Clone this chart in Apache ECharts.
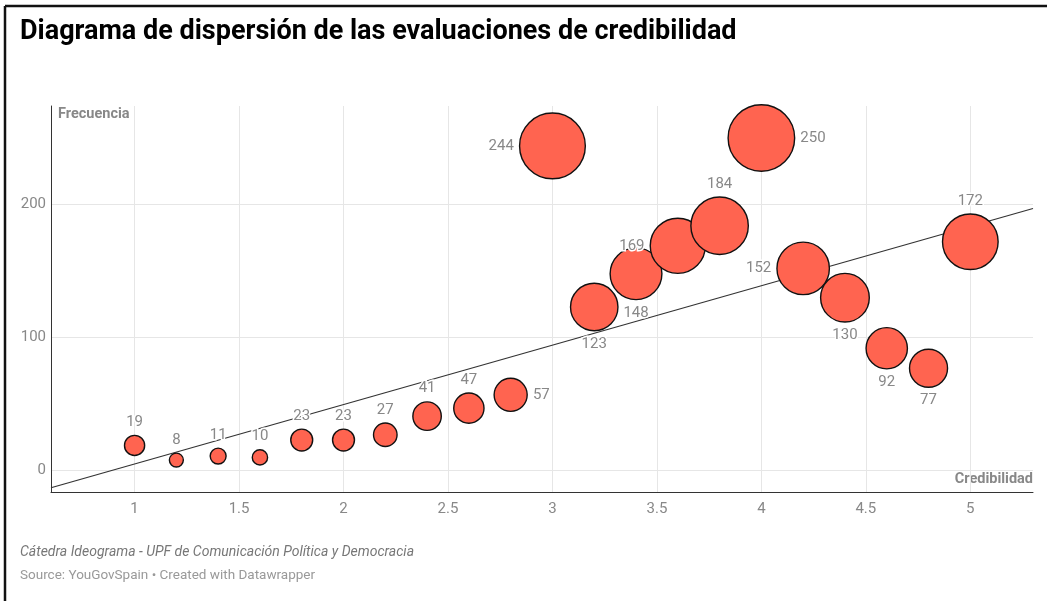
<!DOCTYPE html>
<html lang="es">
<head>
    <meta charset="UTF-8">
    <title>Diagrama de dispersión</title>
    <script src="https://cdn.jsdelivr.net/npm/echarts@6/dist/echarts.min.js"></script>
    <style>
        html, body { margin: 0; padding: 0; background: #fff; }
    </style>
</head>
<body>
<div id="main" style="width: 1047px;height:601px;"></div>
</body>
<script>
    // datos
    var credibilidad = [1, 1.2, 1.4, 1.6, 1.8, 2, 2.2, 2.4, 2.6, 2.8, 3, 3.2, 3.4, 3.6, 3.8, 4, 4.2, 4.4, 4.6, 4.8, 5];
    var frecuencia = [19, 8, 11, 10, 23, 23, 27, 41, 47, 57, 244, 123, 148, 169, 184, 250, 152, 130, 92, 77, 172];
    var xTicks = [1, 1.5, 2, 2.5, 3, 3.5, 4, 4.5, 5];
    var yTicks = [0, 100, 200];
    var tendenciaX = [0.6, 5.3];
    var tendenciaY = [-12.8, 197];

    // donde va cada etiqueta
    var lado = ['top', 'top', 'top', 'top', 'top', 'top', 'top', 'top', 'top', 'right',
        'left', 'bottom', 'bottom', 'left', 'top', 'right', 'left', 'bottom', 'bottom', 'bottom', 'top'];

    var puntos = [];
    for (var i = 0; i < credibilidad.length; i++) {
        puntos.push({
            value: [credibilidad[i], frecuencia[i]],
            label: {position: lado[i]}
        });
    }
    var linea = [];
    for (var i = 0; i < tendenciaX.length; i++) {
        linea.push([tendenciaX[i], tendenciaY[i]]);
    }

    var myChart = echarts.init(document.getElementById('main'));
    var gris = '#888';
    option = {
        animation: false,
        textStyle: {fontFamily: 'Roboto'},
        grid: {left: 51, right: 14, top: 106, bottom: 109, containLabel: false},
        xAxis: {
            type: 'value',
            min: 0.6,
            max: 5.3,
            axisLine: {show: true, onZero: false, lineStyle: {color: '#333', width: 1}},
            axisTick: {show: false, customValues: xTicks},
            axisLabel: {customValues: xTicks, color: gris, fontSize: 15, margin: 10},
            splitLine: {show: true, lineStyle: {color: '#e6e6e6', width: 1}}
        },
        yAxis: {
            type: 'value',
            min: -16,
            max: 274,
            axisLine: {show: true, onZero: false, lineStyle: {color: '#333', width: 1}},
            axisTick: {show: false, customValues: yTicks},
            axisLabel: {customValues: yTicks, color: gris, fontSize: 15, margin: 5},
            splitLine: {show: true, lineStyle: {color: '#e6e6e6', width: 1}}
        },
        series: [
            {
                type: 'line',
                data: linea,
                symbol: 'none',
                silent: true,
                z: 2,
                lineStyle: {color: '#333', width: 1.2}
            },
            {
                type: 'scatter',
                data: puntos,
                z: 3,
                symbolSize: function (v) {
                    return 4.05 * Math.sqrt(v[1]) + 2.5;
                },
                itemStyle: {color: '#ff6450', borderColor: '#111', borderWidth: 1.4, opacity: 1},
                label: {
                    show: true,
                    distance: 5,
                    color: gris,
                    fontSize: 15,
                    textBorderColor: '#fff',
                    textBorderWidth: 3,
                    formatter: function (p) {
                        return p.value[1];
                    }
                }
            }
        ],
        graphic: [
            {type: 'line', shape: {x1: 5, y1: 6, x2: 1047, y2: 6}, style: {stroke: '#111', lineWidth: 2.5}},
            {type: 'line', shape: {x1: 5, y1: 6, x2: 5, y2: 601}, style: {stroke: '#111', lineWidth: 2.5}},
            {
                type: 'text', left: 20, top: 19,
                style: {text: 'Diagrama de dispersión de las evaluaciones de credibilidad', fill: '#000',
                    font: 'bold 27px Roboto'}
            },
            {
                type: 'text', left: 58, top: 107,
                style: {text: 'Frecuencia', fill: gris, font: 'bold 14.5px Roboto'}
            },
            {
                type: 'text', right: 14, top: 472,
                style: {text: 'Credibilidad', fill: gris, font: 'bold 14.5px Roboto'}
            },
            {
                type: 'text', left: 20, top: 545,
                style: {text: 'Cátedra Ideograma - UPF de Comunicación Política y Democracia', fill: '#777',
                    font: 'italic 14px Roboto'}
            },
            {
                type: 'text', left: 20, top: 569,
                style: {text: 'Source: YouGovSpain • Created with Datawrapper', fill: '#999', font: '13.5px Roboto'}
            }
        ]
    };
    myChart.setOption(option);
</script>
</html>
